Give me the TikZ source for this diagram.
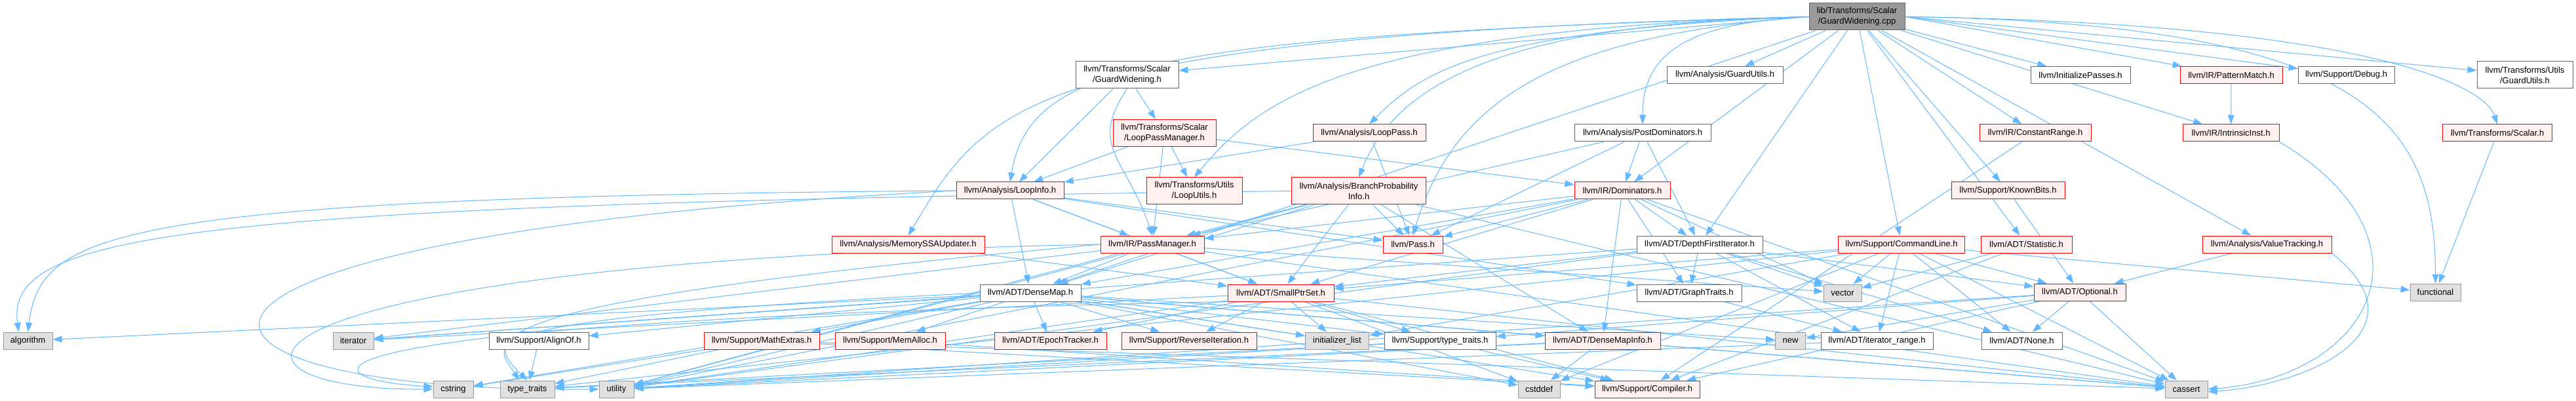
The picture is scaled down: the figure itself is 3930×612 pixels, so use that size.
\documentclass[tikz,border=0pt]{standalone}
\usepackage{fontspec}
\setmainfont{Liberation Sans}
\usetikzlibrary{arrows.meta}
\definecolor{edgec}{HTML}{63B8FF}
\definecolor{redb}{HTML}{FF0000}
\definecolor{redf}{HTML}{FFF0F0}
\definecolor{greyb}{HTML}{666666}
\definecolor{sysb}{HTML}{999999}
\definecolor{sysf}{HTML}{E0E0E0}
\definecolor{rootf}{HTML}{999999}
\pgfdeclarelayer{bg}
\pgfsetlayers{bg,main}
\tikzset{
  base/.style={rectangle, inner sep=0pt, minimum height=26pt, align=center, line width=1pt,
    font=\fontsize{13}{16}\selectfont, text=black},
  two/.style={minimum height=41pt},
  rootn/.style={base, draw=greyb, fill=rootf},
  whiten/.style={base, draw=greyb, fill=white},
  redn/.style={base, draw=redb, fill=redf},
  sysn/.style={base, draw=sysb, fill=sysf},
  dep/.style={draw=edgec, line width=1pt, -{Triangle[length=14pt,width=10pt]}}
}
\begin{document}
\begin{tikzpicture}[x=1pt,y=1pt]
\useasboundingbox (0,0) rectangle (3930,-612);
% row 1
\node[rootn,two,minimum width=146pt] (root) at (2833,-25.5) {lib/Transforms/Scalar\\/GuardWidening.cpp};
% row 2
\node[whiten,two,minimum width=157pt] (gwh) at (1719.5,-114.5) {llvm/Transforms/Scalar\\/GuardWidening.h};
\node[whiten,minimum width=177pt] (agu) at (2631.5,-114.5) {llvm/Analysis/GuardUtils.h};
\node[whiten,minimum width=152pt] (initp) at (3174,-114.5) {llvm/InitializePasses.h};
\node[redn,minimum width=156pt] (pmatch) at (3404,-114.5) {llvm/IR/PatternMatch.h};
\node[whiten,minimum width=147pt] (dbg) at (3579.5,-114.5) {llvm/Support/Debug.h};
\node[whiten,two,minimum width=146pt] (tugu) at (3852,-114.5) {llvm/Transforms/Utils\\/GuardUtils.h};
% row 3
\node[redn,two,minimum width=157pt] (lpm) at (1776.5,-203) {llvm/Transforms/Scalar\\/LoopPassManager.h};
\node[redn,minimum width=172pt] (lpass) at (2089,-203) {llvm/Analysis/LoopPass.h};
\node[whiten,minimum width=208pt] (postdom) at (2506,-203) {llvm/Analysis/PostDominators.h};
\node[redn,minimum width=170pt] (crange) at (3105,-203) {llvm/IR/ConstantRange.h};
\node[redn,minimum width=147pt] (intr) at (3403.5,-203) {llvm/IR/IntrinsicInst.h};
\node[redn,minimum width=167pt] (tscalar) at (3810,-203) {llvm/Transforms/Scalar.h};
% row 4
\node[redn,minimum width=164pt] (linfo) at (1541,-291) {llvm/Analysis/LoopInfo.h};
\node[redn,two,minimum width=146pt] (lutils) at (1822,-291.5) {llvm/Transforms/Utils\\/LoopUtils.h};
\node[redn,two,minimum width=205pt] (bpi) at (2073,-291.5) {llvm/Analysis/BranchProbability\\Info.h};
\node[redn,minimum width=146pt] (dom) at (2475,-291) {llvm/IR/Dominators.h};
\node[redn,minimum width=173pt] (kbits) at (3063.5,-291) {llvm/Support/KnownBits.h};
% row 5
\node[redn,minimum width=233pt] (msu) at (1385.5,-373) {llvm/Analysis/MemorySSAUpdater.h};
\node[redn,minimum width=158pt] (pm) at (1758,-373) {llvm/IR/PassManager.h};
\node[redn,minimum width=91pt] (pass) at (2155.5,-373) {llvm/Pass.h};
\node[whiten,minimum width=192pt] (dfi) at (2593,-373) {llvm/ADT/DepthFirstIterator.h};
\node[redn,minimum width=193pt] (cl) at (2901,-373) {llvm/Support/CommandLine.h};
\node[redn,minimum width=139pt] (stat) at (3091.5,-373) {llvm/ADT/Statistic.h};
\node[redn,minimum width=197pt] (vt) at (3458.5,-373) {llvm/Analysis/ValueTracking.h};
% row 6
\node[whiten,minimum width=154pt] (dmap) at (1572,-447) {llvm/ADT/DenseMap.h};
\node[redn,minimum width=162pt] (spset) at (1954,-447) {llvm/ADT/SmallPtrSet.h};
\node[whiten,minimum width=160pt] (gtraits) at (2577,-447) {llvm/ADT/GraphTraits.h};
\node[sysn,minimum width=58pt] (vec) at (2811,-447) {vector};
\node[redn,minimum width=140pt] (opt) at (3173,-446) {llvm/ADT/Optional.h};
\node[sysn,minimum width=77pt] (func) at (3715.5,-446) {functional};
% row 7
\node[sysn,minimum width=75pt] (alg) at (42.5,-520) {algorithm};
\node[sysn,minimum width=62pt] (iter) at (539,-520) {iterator};
\node[whiten,minimum width=152pt] (alignof) at (822,-520) {llvm/Support/AlignOf.h};
\node[redn,minimum width=176pt] (mathx) at (1162,-520) {llvm/Support/MathExtras.h};
\node[redn,minimum width=168pt] (memalloc) at (1358,-520) {llvm/Support/MemAlloc.h};
\node[redn,minimum width=171pt] (epoch) at (1602.5,-520) {llvm/ADT/EpochTracker.h};
\node[redn,minimum width=206pt] (reviter) at (1814,-520) {llvm/Support/ReverseIteration.h};
\node[sysn,minimum width=97pt] (initl) at (2040,-520) {initializer\_list};
\node[whiten,minimum width=170pt] (sttraits) at (2197,-520) {llvm/Support/type\_traits.h};
\node[redn,minimum width=176pt] (dmi) at (2445,-520) {llvm/ADT/DenseMapInfo.h};
\node[sysn,minimum width=46pt] (new) at (2731.5,-520) {new};
\node[whiten,minimum width=171pt] (irange) at (2863.5,-520) {llvm/ADT/iterator\_range.h};
\node[whiten,minimum width=123pt] (none) at (3084.5,-520) {llvm/ADT/None.h};
% row 8
\node[sysn,minimum width=61pt] (cstring) at (691.5,-594) {cstring};
\node[sysn,minimum width=83pt] (ttraits) at (804.5,-594) {type\_traits};
\node[sysn,minimum width=53pt] (util) at (940.5,-594) {utility};
\node[sysn,minimum width=64pt] (cstddef) at (2348,-594) {cstddef};
\node[redn,minimum width=160pt] (compiler) at (2513,-594) {llvm/Support/Compiler.h};
\node[sysn,minimum width=65pt] (cassert) at (3335.5,-594) {cassert};

\begin{pgfonlayer}{bg}
% root
\draw[dep] (root.west) -- (gwh);
\draw[dep] (root) -- (dmap);
\draw[dep] (root) -- (dfi);
\draw[dep] (root) -- (stat);
\draw[dep] (root.west) .. controls +(-450,-10) and +(60,150) .. (bpi.north);
\draw[dep] (root) -- (agu);
\draw[dep] (root.west) .. controls +(-1000,-30) and +(30,180) .. (linfo.north);
\draw[dep] (root.west) .. controls +(-500,-20) and +(80,80) .. (lpass.north);
\draw[dep] (root.west) .. controls +(-1200,-30) and +(120,200) .. (msu.north);
\draw[dep] (root.west) .. controls +(-200,-10) and +(0,100) .. (postdom.north);
\draw[dep] (root) -- (vt);
\draw[dep] (root) -- (crange);
\draw[dep] (root) -- (dom);
\draw[dep] (root) -- (intr);
\draw[dep] (root.east) -- (pmatch);
\draw[dep] (root) -- (initp);
\draw[dep] (root.west) .. controls +(-400,-30) and +(60,200) .. (pass.north);
\draw[dep] (root) -- (cl);
\draw[dep] (root.east) -- (dbg);
\draw[dep] (root) -- (kbits);
\draw[dep] (root.east) .. controls +(700,-10) and +(-20,60) .. (tscalar.north);
\draw[dep] (root.east) -- (tugu);
\draw[dep] (root.west) .. controls +(-700,-20) and +(100,120) .. (lutils.north);
\draw[dep] (root.east) .. controls +(700,-10) and +(0,250) .. (func.north);
% GuardWidening.h
\draw[dep] (gwh) -- (linfo);
\draw[dep] (gwh.south) .. controls +(-60,-90) and +(-40,120) .. (pm.north);
\draw[dep] (gwh) -- (lpm);
% LoopPassManager
\draw[dep] (lpm) -- (linfo);
\draw[dep] (lpm) -- (pm);
\draw[dep] (lpm) -- (lutils);
\draw[dep] (lpm) -- (dom);
% LoopPass
\draw[dep] (lpass) -- (linfo);
\draw[dep] (lpass) -- (pass);
% PostDominators
\draw[dep] (postdom) -- (dfi);
\draw[dep] (postdom) -- (dom);
\draw[dep] (postdom) -- (pm);
\draw[dep] (postdom) -- (pass);
% LoopInfo
\draw[dep] (linfo) -- (dmap);
\draw[dep] (linfo) -- (gtraits);
\draw[dep] (linfo) -- (spset);
\draw[dep] (linfo) -- (pm);
\draw[dep] (linfo) -- (pass);
\draw[dep] (linfo.west) .. controls +(-1300,-10) and +(20,150) .. (alg.north);
\draw[dep] (linfo.west) .. controls +(-1339,-69) and +(-734,-6) .. (util.west);
% BranchProbabilityInfo
\draw[dep] (bpi) -- (dmap);
\draw[dep] (bpi) -- (dmi);
\draw[dep] (bpi) -- (spset);
\draw[dep] (bpi) -- (pm);
\draw[dep] (bpi) -- (pass);
\draw[dep] (bpi.west) .. controls +(-1700,-20) and +(-20,150) .. ([xshift=-14pt]alg.north);
\draw[dep] (bpi) -- (cassert);
\draw[dep] (bpi) -- (util);
% Dominators
\draw[dep] (dom) -- (dmap);
\draw[dep] (dom) -- (dmi);
\draw[dep] (dom) -- (dfi);
\draw[dep] (dom) -- (gtraits);
\draw[dep] (dom) -- (spset);
\draw[dep] (dom) -- (pm);
\draw[dep] (dom) -- (pass);
\draw[dep] (dom) -- (util);
\draw[dep] (dom) -- (cassert);
\draw[dep] (dom) -- (vec);
% PassManager
\draw[dep] (pm) -- (dmap);
\draw[dep] (pm) -- (spset);
\draw[dep] (pm) -- (cassert);
\draw[dep] (pm.west) .. controls +(-1379,-27) and +(-381,-2) .. (cstring.west);
\draw[dep] (pm) -- (iter);
\draw[dep] (pm.west) .. controls +(-1000,-90) and +(-60,60) .. (ttraits.north);
\draw[dep] (pm) -- (util);
\draw[dep] (pm) -- (vec);
% MemorySSAUpdater
\draw[dep] (msu) -- (spset);
% DepthFirstIterator
\draw[dep] (dfi) -- (gtraits);
\draw[dep] (dfi) -- (none);
\draw[dep] (dfi) -- (opt);
\draw[dep] (dfi) -- (spset);
\draw[dep] (dfi) -- (irange);
\draw[dep] (dfi) -- (iter);
\draw[dep] (dfi) -- (util);
\draw[dep] (dfi) -- (vec);
% CommandLine
\draw[dep] (cl) -- (none);
\draw[dep] (cl) -- (opt);
\draw[dep] (cl) -- (spset);
\draw[dep] (cl) -- (irange);
\draw[dep] (cl) -- (cassert);
\draw[dep] (cl) -- (cstddef);
\draw[dep] (cl) -- (func);
\draw[dep] (cl) -- (initl);
\draw[dep] (cl) -- (ttraits);
\draw[dep] (cl) -- (vec);
% Statistic, KnownBits, ConstantRange, PatternMatch, IntrinsicInst, Scalar, ValueTracking
\draw[dep] (stat) -- (compiler);
\draw[dep] (stat) -- (vec);
\draw[dep] (kbits) -- (opt);
\draw[dep] (crange) -- (compiler);
\draw[dep] (pmatch) -- (intr);
\draw[dep] (intr.south east) .. controls +(250,-150) and +(250,20) .. (cassert.east);
\draw[dep] (tscalar) -- (func);
\draw[dep] (vt) -- (opt);
\draw[dep] (vt.south east) .. controls +(150,-120) and +(150,10) .. ([yshift=-4pt]cassert.east);
% DenseMap
\draw[dep] (dmap) -- (dmi);
\draw[dep] (dmap) -- (epoch);
\draw[dep] (dmap) -- (alignof);
\draw[dep] (dmap) -- (compiler);
\draw[dep] (dmap) -- (mathx);
\draw[dep] (dmap) -- (memalloc);
\draw[dep] (dmap) -- (reviter);
\draw[dep] (dmap) -- (sttraits);
\draw[dep] (dmap) -- (alg);
\draw[dep] (dmap) -- (cassert);
\draw[dep] (dmap) -- (cstddef);
\draw[dep] (dmap) -- (cstring);
\draw[dep] (dmap) -- (initl);
\draw[dep] (dmap) -- (iter);
\draw[dep] (dmap) -- (new);
\draw[dep] (dmap.west) .. controls +(-800,-40) and +(-40,60) .. ([xshift=-12pt]ttraits.north);
\draw[dep] (dmap) -- (util);
% SmallPtrSet
\draw[dep] (spset) -- (epoch);
\draw[dep] (spset) -- (compiler);
\draw[dep] (spset) -- (reviter);
\draw[dep] (spset) -- (sttraits);
\draw[dep] (spset) -- (cassert);
\draw[dep] (spset) -- (cstddef);
\draw[dep] (spset.south west) .. controls +(-1500,-30) and +(-200,10) .. ([yshift=4pt]cstring.west);
\draw[dep] (spset) -- (initl);
\draw[dep] (spset) -- (iter);
\draw[dep] (spset) -- (util);
% DenseMapInfo, GraphTraits, Optional, iterator_range, AlignOf, MathExtras, MemAlloc, type_traits.h
\draw[dep] (dmi) -- (cassert);
\draw[dep] (dmi) -- (cstddef);
\draw[dep] (dmi) -- (ttraits);
\draw[dep] (dmi) -- (util);
\draw[dep] (gtraits) -- (irange);
\draw[dep] (opt) -- (none);
\draw[dep] (opt) -- (compiler);
\draw[dep] (opt) -- (sttraits);
\draw[dep] (opt) -- (cassert);
\draw[dep] (opt) -- (new);
\draw[dep] (opt) -- (util);
\draw[dep] (irange) -- (util);
\draw[dep] (alignof) -- (ttraits);
\draw[dep] (mathx) -- (compiler);
\draw[dep] (mathx) -- (cassert);
\draw[dep] (mathx) -- (cstring);
\draw[dep] (mathx) -- (ttraits);
\draw[dep] (memalloc) -- (compiler);
\draw[dep] (sttraits) -- (compiler);
\draw[dep] (sttraits) -- (ttraits);
\draw[dep] (sttraits) -- (util);
\end{pgfonlayer}
\end{tikzpicture}
\end{document}
